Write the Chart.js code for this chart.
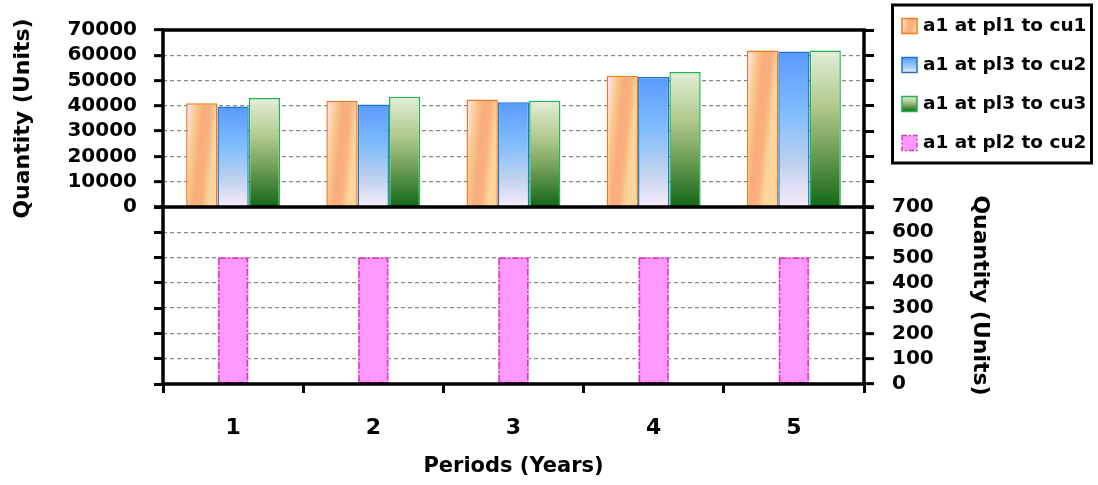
<!DOCTYPE html>
<html>
<head>
<meta charset="utf-8">
<script src="https://cdn.jsdelivr.net/npm/chart.js@4.4.1/dist/chart.umd.min.js"></script>
<style>
  html, body { margin: 0; padding: 0; background: #fff; }
  canvas { display: block; }
</style>
</head>
<body>
<canvas id="chart" width="1098" height="485"></canvas>
<script>
// values
const periods = ['1', '2', '3', '4', '5'];
const seriesNames = ['a1 at pl1 to cu1', 'a1 at pl3 to cu2', 'a1 at pl3 to cu3', 'a1 at pl2 to cu2'];
const pl1ToCu1 = [41000, 41900, 42500, 51900, 61900];
const pl3ToCu2 = [39700, 40500, 41400, 51400, 61500];
const pl3ToCu3 = [43100, 43600, 42000, 53400, 61900];
const pl2ToCu2 = [500, 500, 500, 500, 500];
const upperTicks = [0, 10000, 20000, 30000, 40000, 50000, 60000, 70000];
const lowerTicks = [0, 100, 200, 300, 400, 500, 600, 700];

const FONT = 'DejaVu Sans';
const GRID = '#8a8a8a';

function barPaint(ctx, kind, x0, y0, x1, y1) {
    let g;
    if (kind === 'orange') {
        g = ctx.createLinearGradient(x0, y0, x1, y0 + 3);
        g.addColorStop(0, '#fde4ef');
        g.addColorStop(0.12, '#fcdde0');
        g.addColorStop(0.32, '#f9c987');
        g.addColorStop(0.55, '#f9ad7d');
        g.addColorStop(0.78, '#f9b07e');
        g.addColorStop(1, '#fcd49c');
    } else if (kind === 'blue') {
        g = ctx.createLinearGradient(0, y0, 0, y1);
        g.addColorStop(0, '#5a9aff');
        g.addColorStop(0.4, '#80bdfd');
        g.addColorStop(0.72, '#bcd1ee');
        g.addColorStop(1, '#f8ebfa');
    } else {
        g = ctx.createLinearGradient(0, y0, 0, y1);
        g.addColorStop(0, '#e3eed8');
        g.addColorStop(0.35, '#b2ca8e');
        g.addColorStop(0.6, '#7ba55f');
        g.addColorStop(0.85, '#3b7e33');
        g.addColorStop(1, '#136816');
    }
    return g;
}

function fillFor(kind, flat) {
    return c => {
        const el = c.element;
        if (!el || !isFinite(el.x) || !isFinite(el.base) || !isFinite(el.width)) return flat;
        return barPaint(c.chart.ctx, kind, el.x - el.width / 2, el.y, el.x + el.width / 2, el.base);
    };
}

const swatches = [
    { kind: 'orange', border: '#f07a1e' },
    { kind: 'blue', border: '#1a75cf' },
    { kind: 'green', border: '#1fb450' },
    { kind: 'pink', border: '#d63caa' }
];

// frame lines, dashed outline of the pink bars, boxed legend
const framePlugin = {
    id: 'frame',
    afterDatasetsDraw(chart) {
        const { ctx, chartArea: a, scales } = chart;
        const pink = chart.getDatasetMeta(3);
        ctx.save();
        ctx.strokeStyle = '#d63caa';
        ctx.lineWidth = 1.5;
        ctx.setLineDash([7, 2, 2, 2]);
        pink.data.forEach(b => {
            ctx.strokeRect(b.x - b.width / 2 + 0.75, b.y + 0.75, b.width - 1.5, b.base - b.y - 1.5);
        });
        ctx.restore();

        const top = scales.y.getPixelForValue(70000);
        const mid = scales.y.getPixelForValue(0);
        const bottom = scales.yLow.getPixelForValue(0);
        ctx.save();
        ctx.strokeStyle = '#000';
        ctx.lineWidth = 3.5;
        ctx.beginPath();
        [top, mid, bottom].forEach(y => {
            ctx.moveTo(a.left - 1.75, y);
            ctx.lineTo(a.right + 1.75, y);
        });
        ctx.moveTo(a.left, top);
        ctx.lineTo(a.left, bottom);
        ctx.moveTo(a.right, top);
        ctx.lineTo(a.right, bottom);
        ctx.stroke();
        ctx.restore();
    },
    afterDraw(chart) {
        const ctx = chart.ctx;
        ctx.save();
        ctx.strokeStyle = '#000';
        ctx.lineWidth = 3;
        ctx.strokeRect(892.5, 5, 199, 158);
        ctx.font = 'bold 18.5px "' + FONT + '"';
        ctx.textBaseline = 'middle';
        ctx.fillStyle = '#000';
        chart.data.datasets.forEach((ds, i) => {
            const cy = 26 + i * 39;
            const s = swatches[i];
            const x0 = 902, y0 = cy - 7.5;
            ctx.fillStyle = s.kind === 'pink' ? '#ff99ff' : barPaint(ctx, s.kind, x0, y0, x0 + 15, y0 + 15);
            ctx.fillRect(x0, y0, 15, 15);
            ctx.strokeStyle = s.border;
            ctx.lineWidth = 1.5;
            ctx.setLineDash(s.kind === 'pink' ? [5, 2, 2, 2] : []);
            ctx.strokeRect(x0, y0, 15, 15);
            ctx.setLineDash([]);
            ctx.fillStyle = '#000';
            ctx.fillText(ds.label, 923, cy);
        });
        ctx.restore();
    }
};

function tickList(list) {
    return s => { s.ticks = list.map(v => ({ value: v })); };
}

const edgeless = (hi, color) => c => (c.tick && (c.tick.value === 0 || c.tick.value === hi)) ? 'rgba(0,0,0,0)' : color;

const labelFont = { family: FONT, size: 20, weight: 'bold' };
const titleFont = { family: FONT, size: 22, weight: 'bold' };

function drawChart() {
    const ctx = document.getElementById('chart').getContext('2d');
    const chart = new Chart(ctx, {
        type: 'bar',
        data: {
            labels: periods,
            datasets: [{
                label: seriesNames[0],
                data: pl1ToCu1,
                yAxisID: 'y',
                backgroundColor: fillFor('orange', '#f9b880'),
                borderColor: '#f07a1e',
                borderWidth: 1.5,
                categoryPercentage: 0.67,
                barPercentage: 1
            }, {
                label: seriesNames[1],
                data: pl3ToCu2,
                yAxisID: 'y',
                backgroundColor: fillFor('blue', '#8fbff5'),
                borderColor: '#1a75cf',
                borderWidth: 1.5,
                categoryPercentage: 0.67,
                barPercentage: 1
            }, {
                label: seriesNames[2],
                data: pl3ToCu3,
                yAxisID: 'y',
                backgroundColor: fillFor('green', '#7ba55f'),
                borderColor: '#1fb450',
                borderWidth: 1.5,
                categoryPercentage: 0.67,
                barPercentage: 1
            }, {
                label: seriesNames[3],
                data: pl2ToCu2,
                yAxisID: 'yLow',
                backgroundColor: '#ff99ff',
                borderWidth: 0,
                grouped: false,
                barThickness: 30
            }]
        },
        options: {
            responsive: false,
            animation: false,
            devicePixelRatio: 1,
            layout: { padding: { top: 21, left: 0, right: 0, bottom: 0 } },
            plugins: {
                legend: { display: false },
                tooltip: { enabled: false }
            },
            scales: {
                x: {
                    position: 'bottom',
                    grid: { offset: true, drawOnChartArea: false, tickLength: 9, tickColor: '#000', tickWidth: 3 },
                    border: { display: false },
                    ticks: { color: '#000', font: { family: FONT, size: 22, weight: 'bold' }, padding: 22, maxRotation: 0 },
                    title: { display: true, text: 'Periods (Years)', color: '#000', font: { family: FONT, size: 21, weight: 'bold' }, padding: { top: 0, bottom: 6 } },
                    afterFit: s => { s.height = 101; }
                },
                y: {
                    position: 'left',
                    stack: 'panels',
                    stackWeight: 1,
                    weight: 2,
                    min: 0,
                    max: 70000,
                    afterBuildTicks: tickList(upperTicks),
                    ticks: { color: '#000', font: labelFont, padding: 17, autoSkip: false, callback: v => String(v) },
                    grid: { color: edgeless(70000, GRID), lineWidth: 1.3, tickLength: 9, tickColor: '#000', tickWidth: 3 },
                    border: { display: false, dash: [4, 3] },
                    title: { display: true, text: 'Quantity (Units)', color: '#000', font: titleFont, padding: { top: 10 } },
                    afterFit: s => { s.width = 163; }
                },
                yLeftLow: {
                    position: 'left',
                    stack: 'panels',
                    stackWeight: 1,
                    weight: 1,
                    min: 0,
                    max: 700,
                    afterBuildTicks: tickList(lowerTicks),
                    ticks: { display: false, autoSkip: false },
                    grid: { drawOnChartArea: false, tickLength: 9, tickColor: '#000', tickWidth: 3 },
                    border: { display: false },
                    afterFit: s => { s.width = 163; }
                },
                yRightTop: {
                    position: 'right',
                    stack: 'panels',
                    stackWeight: 1,
                    weight: 1,
                    min: 0,
                    max: 70000,
                    afterBuildTicks: tickList(upperTicks),
                    ticks: { display: false, autoSkip: false },
                    grid: { drawOnChartArea: false, tickLength: 10, tickColor: '#000', tickWidth: 3 },
                    border: { display: false },
                    afterFit: s => { s.width = 234; }
                },
                yLow: {
                    position: 'right',
                    stack: 'panels',
                    stackWeight: 1,
                    weight: 2,
                    min: 0,
                    max: 700,
                    afterBuildTicks: tickList(lowerTicks),
                    ticks: { color: '#000', font: labelFont, padding: 18, autoSkip: false, callback: v => String(v) },
                    grid: { color: edgeless(700, GRID), lineWidth: 1.3, tickLength: 10, tickColor: '#000', tickWidth: 3 },
                    border: { display: false, dash: [4, 3] },
                    title: { display: true, text: 'Quantity (Units)', color: '#000', font: titleFont, padding: { top: 105 } },
                    afterFit: s => { s.width = 234; }
                }
            }
        },
        plugins: [framePlugin]
    });
    // second pass so the gradients can use the laid-out bar rectangles
    chart.update();
    return chart;
}

window.quantityChart = drawChart();
</script>
</body>
</html>
